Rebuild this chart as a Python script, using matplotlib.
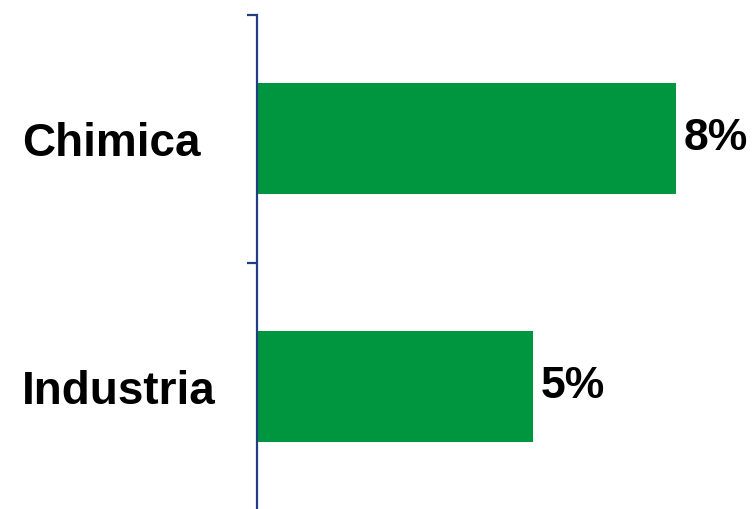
import matplotlib
matplotlib.use("Agg")
import matplotlib.pyplot as plt
import numpy as np

categories = ["Chimica", "Industria"]
values = [7.6, 5.0]
value_labels = ["8%", "5%"]

plt.rcParams['font.family'] = ['Liberation Sans', 'DejaVu Sans']

W, H = 755, 509
fig = plt.figure(figsize=(W / 100, H / 100), dpi=100)
# 248 px per category, Chimica centred at 138.5 px from the top
ax = fig.add_axes([257 / W, (H - 510.5) / H, 483 / W, 496 / H])

ypos = np.arange(len(categories))[::-1]
ax.barh(ypos, values, height=0.448, color='#00963F')

for y, v, lab in zip(ypos, values, value_labels):
    ax.annotate(lab, (v, y), xytext=(6, 0), textcoords='offset points',
                ha='left', va='center', fontsize=32, fontweight='bold', color='black')

ax.set_xlim(0, 483 / 55.1)
ax.set_ylim(-0.5, 1.5)

for s in ['top', 'right', 'bottom']:
    ax.spines[s].set_visible(False)
ax.spines['left'].set_color('#203F80')
ax.spines['left'].set_linewidth(1.6)
ax.set_xticks([])

# tick marks between categories, labels at category centres
ax.set_yticks([-0.5, 0.5, 1.5])
ax.set_yticklabels([])
ax.tick_params(axis='y', which='major', length=7, width=1.6, color='#203F80')
ax.set_yticks(ypos, minor=True)
ax.set_yticklabels(categories, minor=True, ha='left', fontsize=33, fontweight='bold')
ax.tick_params(axis='y', which='minor', length=0, pad=(257 - 22) * 0.72)

fig.savefig('out.png', dpi=100)
